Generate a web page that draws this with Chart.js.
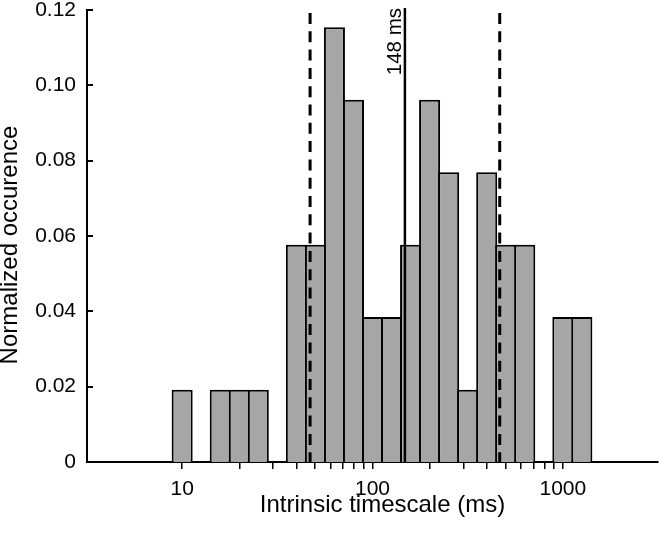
<!DOCTYPE html>
<html>
<head>
<meta charset="utf-8">
<script src="https://cdn.jsdelivr.net/npm/chart.js@4.4.1/dist/chart.umd.min.js"></script>
<style>
  html, body { margin: 0; padding: 0; background: #fff; }
  #wrap { width: 660px; height: 536px; }
</style>
</head>
<body>
<div id="wrap"><canvas id="chart"></canvas></div>
<script>
// Histogram bins: centre of each bin in log10(ms), bins are 0.1 decade wide
const binCentersLog = [1.0, 1.1, 1.2, 1.3, 1.4, 1.5, 1.6, 1.7, 1.8, 1.9, 2.0,
                       2.1, 2.2, 2.3, 2.4, 2.5, 2.6, 2.7, 2.8, 2.9, 3.0, 3.1];
const occurrence = [0.0192, 0, 0.0192, 0.0192, 0.0192, 0, 0.0577, 0.0577, 0.1154, 0.0962, 0.0385,
                    0.0385, 0.0577, 0.0962, 0.0769, 0.0192, 0.0769, 0.0577, 0.0577, 0, 0.0385, 0.0385];

// Axis range (log10 ms) and ticks
const xRangeLog = [0.5, 3.5];
const xTickValues = [10, 20, 30, 40, 50, 60, 70, 80, 90,
                     100, 200, 300, 400, 500, 600, 700, 800, 900, 1000];
const xTickLabels = { 10: '10', 100: '100', 1000: '1000' };
const yTickValues = [0, 0.02, 0.04, 0.06, 0.08, 0.10, 0.12];
const yTickLabels = ['0', '0.02', '0.04', '0.06', '0.08', '0.10', '0.12'];
const xTitle = 'Intrinsic timescale (ms)';
const yTitle = 'Normalized occurence';

// Reference lines (ms)
const spreadLines = [47, 466];
const medianValue = 148;
const medianLabel = '148 ms';

const FONT = '"Liberation Sans", Arial, Helvetica, sans-serif';

const extrasPlugin = {
    id: 'extras',
    afterDraw(chart) {
        const { ctx, chartArea: a, scales: { x, y } } = chart;
        ctx.save();
        ctx.strokeStyle = '#000';
        ctx.fillStyle = '#000';

        // inward ticks on the y axis
        ctx.lineWidth = 2;
        yTickValues.forEach(v => {
            const py = Math.round(y.getPixelForValue(v));
            ctx.beginPath();
            ctx.moveTo(a.left, py);
            ctx.lineTo(a.left + 6, py);
            ctx.stroke();
        });

        // dashed spread lines
        ctx.lineWidth = 3;
        ctx.setLineDash([11, 7.3]);
        spreadLines.forEach(v => {
            const px = x.getPixelForValue(v);
            ctx.beginPath();
            ctx.moveTo(px, a.top + 3);
            ctx.lineTo(px, a.bottom);
            ctx.stroke();
        });

        // solid median line
        ctx.setLineDash([]);
        ctx.lineWidth = 2.5;
        const mx = x.getPixelForValue(medianValue);
        ctx.beginPath();
        ctx.moveTo(mx, a.top - 2);
        ctx.lineTo(mx, a.bottom + 1);
        ctx.stroke();

        // axis titles (sit slightly off the plot centre in the original)
        ctx.font = '24px ' + FONT;
        ctx.textAlign = 'center';
        ctx.textBaseline = 'alphabetic';
        ctx.fillText(xTitle, (a.left + a.right) / 2 + 10, chart.height - 24);
        ctx.save();
        ctx.translate(17, (a.top + a.bottom) / 2 + 9);
        ctx.rotate(-Math.PI / 2);
        ctx.fillText(yTitle, 0, 0);
        ctx.restore();

        // median label, rotated
        ctx.translate(mx - 4, a.top - 2);
        ctx.rotate(-Math.PI / 2);
        ctx.font = '20.5px ' + FONT;
        ctx.textAlign = 'right';
        ctx.fillText(medianLabel, 0, 0);
        ctx.restore();
    }
};

const chart = new Chart(document.getElementById('chart'), {
    type: 'bar',
    data: {
        datasets: [{
            xAxisID: 'xb',
            data: binCentersLog.map((c, i) => ({ x: c, y: occurrence[i] })),
            backgroundColor: '#a6a6a6',
            borderColor: '#000',
            borderWidth: 2,
            categoryPercentage: 1,
            barPercentage: 1.105
        }]
    },
    options: {
        responsive: true,
        maintainAspectRatio: false,
        animation: false,
        events: [],
        layout: { padding: { top: 0, right: 2, left: 0, bottom: 0 } },
        plugins: { legend: { display: false }, tooltip: { enabled: false } },
        scales: {
            xb: {
                type: 'linear',
                axis: 'x',
                position: 'bottom',
                display: false,
                offset: false,
                grid: { offset: false },
                min: xRangeLog[0],
                max: xRangeLog[1],
                afterBuildTicks: s => { s.ticks = xRangeLog.map(v => ({ value: v })); }
            },
            x: {
                type: 'logarithmic',
                position: 'bottom',
                offset: false,
                min: Math.pow(10, xRangeLog[0]),
                max: Math.pow(10, xRangeLog[1]),
                z: 1,
                afterBuildTicks: s => { s.ticks = xTickValues.map(v => ({ value: v })); },
                afterFit: s => { s.height = 74; },
                grid: { display: true, offset: false, drawOnChartArea: false, drawTicks: true, tickLength: 7, color: '#000', lineWidth: 1.5 },
                border: { display: true, color: '#000', width: 2 },
                ticks: {
                    autoSkip: false, maxRotation: 0, padding: 8,
                    color: '#000', font: { family: FONT, size: 21 },
                    callback: v => xTickLabels[v] || ''
                }
            },
            y: {
                type: 'linear',
                min: 0,
                max: 0.12,
                z: 1,
                afterBuildTicks: s => { s.ticks = yTickValues.map(v => ({ value: v })); },
                afterFit: s => { s.width = 87; s.paddingTop = 10; s.paddingBottom = 0; },
                grid: { display: false, drawTicks: false },
                border: { display: true, color: '#000', width: 2 },
                ticks: {
                    padding: 11, color: '#000', font: { family: FONT, size: 21 },
                    callback: (v, i) => yTickLabels[i]
                }
            }
        }
    },
    plugins: [extrasPlugin]
});
</script>
</body>
</html>
